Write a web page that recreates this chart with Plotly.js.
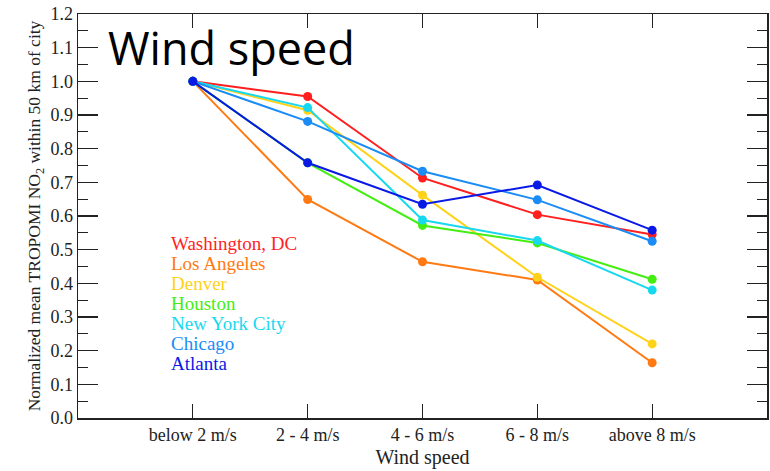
<!DOCTYPE html>
<html>
<head>
<meta charset="utf-8">
<script src="https://cdn.plot.ly/plotly-3.0.1.min.js"></script>
<style>html,body{margin:0;padding:0;background:#fff;}#chart{width:770px;height:471px;}</style>
</head>
<body>
<div id="chart"></div>
<script>
const categories = ["below 2 m/s", "2 - 4 m/s", "4 - 6 m/s", "6 - 8 m/s", "above 8 m/s"];
const cities = ["Washington, DC", "Los Angeles", "Denver", "Houston", "New York City", "Chicago", "Atlanta"];
const colors = ["#ff1f1f", "#ff7a12", "#ffd21a", "#44ee10", "#18d8f0", "#1a8cf5", "#0a1ae6"];
const washington = [1.0, 0.955, 0.713, 0.604, 0.545];
const losAngeles = [1.0, 0.649, 0.464, 0.410, 0.164];
const denver = [1.0, 0.914, 0.662, 0.418, 0.220];
const houston = [1.0, 0.758, 0.572, 0.520, 0.412];
const newYork = [1.0, 0.922, 0.588, 0.527, 0.380];
const chicago = [1.0, 0.881, 0.733, 0.648, 0.525];
const atlanta = [1.0, 0.758, 0.635, 0.692, 0.558];
const series = [washington, losAngeles, denver, houston, newYork, chicago, atlanta];
const yTicks = [0.0, 0.1, 0.2, 0.3, 0.4, 0.5, 0.6, 0.7, 0.8, 0.9, 1.0, 1.1, 1.2];

const serif = "Liberation Serif, Times New Roman, serif";
const traces = series.map((vals, i) => ({
  x: categories.map((c, j) => j),
  y: vals,
  name: cities[i],
  type: "scatter",
  mode: "lines+markers",
  line: {color: colors[i], width: 2},
  marker: {color: colors[i], size: 9},
  showlegend: false
}));

const annotations = cities.map((c, i) => ({
  text: c,
  xref: "paper", yref: "paper",
  x: 0.1325, y: 0.433 - i * 0.0495,
  xanchor: "left", yanchor: "middle",
  showarrow: false,
  font: {family: serif, size: 19, color: colors[i]}
}));
annotations.push({
  text: "Wind speed",
  xref: "paper", yref: "paper",
  x: 0.04, y: 0.916,
  xanchor: "left", yanchor: "middle",
  showarrow: false,
  font: {family: "Open Sans, sans-serif", size: 45, color: "#000"}
});

const layout = {
  width: 770, height: 471,
  margin: {l: 78, r: 3, t: 14, b: 53},
  paper_bgcolor: "#fff", plot_bgcolor: "#fff",
  font: {family: serif, size: 18, color: "#222"},
  xaxis: {
    range: [-1, 5],
    tickmode: "array",
    tickvals: categories.map((c, j) => j),
    ticktext: categories,
    ticks: "inside", ticklen: 14, tickwidth: 1.2, tickcolor: "#222",
    showline: true, linecolor: "#222", linewidth: 1.5, mirror: "ticks",
    showgrid: false, zeroline: false,
    tickfont: {family: serif, size: 18, color: "#222"},
    title: {text: "Wind speed", font: {family: serif, size: 20, color: "#222"}, standoff: 6}
  },
  yaxis: {
    range: [0, 1.2],
    tickmode: "array",
    tickvals: yTicks,
    ticktext: yTicks.map(v => v.toFixed(1)),
    ticks: "inside", ticklen: 20, tickwidth: 1.2, tickcolor: "#222",
    minor: {dtick: 0.05, ticks: "inside", ticklen: 10, tickwidth: 1.2, tickcolor: "#222", showgrid: false},
    showline: true, linecolor: "#222", linewidth: 1.5, mirror: "ticks",
    showgrid: false, zeroline: false,
    tickfont: {family: serif, size: 18, color: "#222"},
    title: {text: "Normalized mean TROPOMI NO<sub>2</sub> within 50 km of city", font: {family: serif, size: 17.5, color: "#222"}, standoff: 5}
  },
  annotations: annotations
};

Plotly.newPlot("chart", traces, layout, {displayModeBar: false, staticPlot: true});
</script>
</body>
</html>
